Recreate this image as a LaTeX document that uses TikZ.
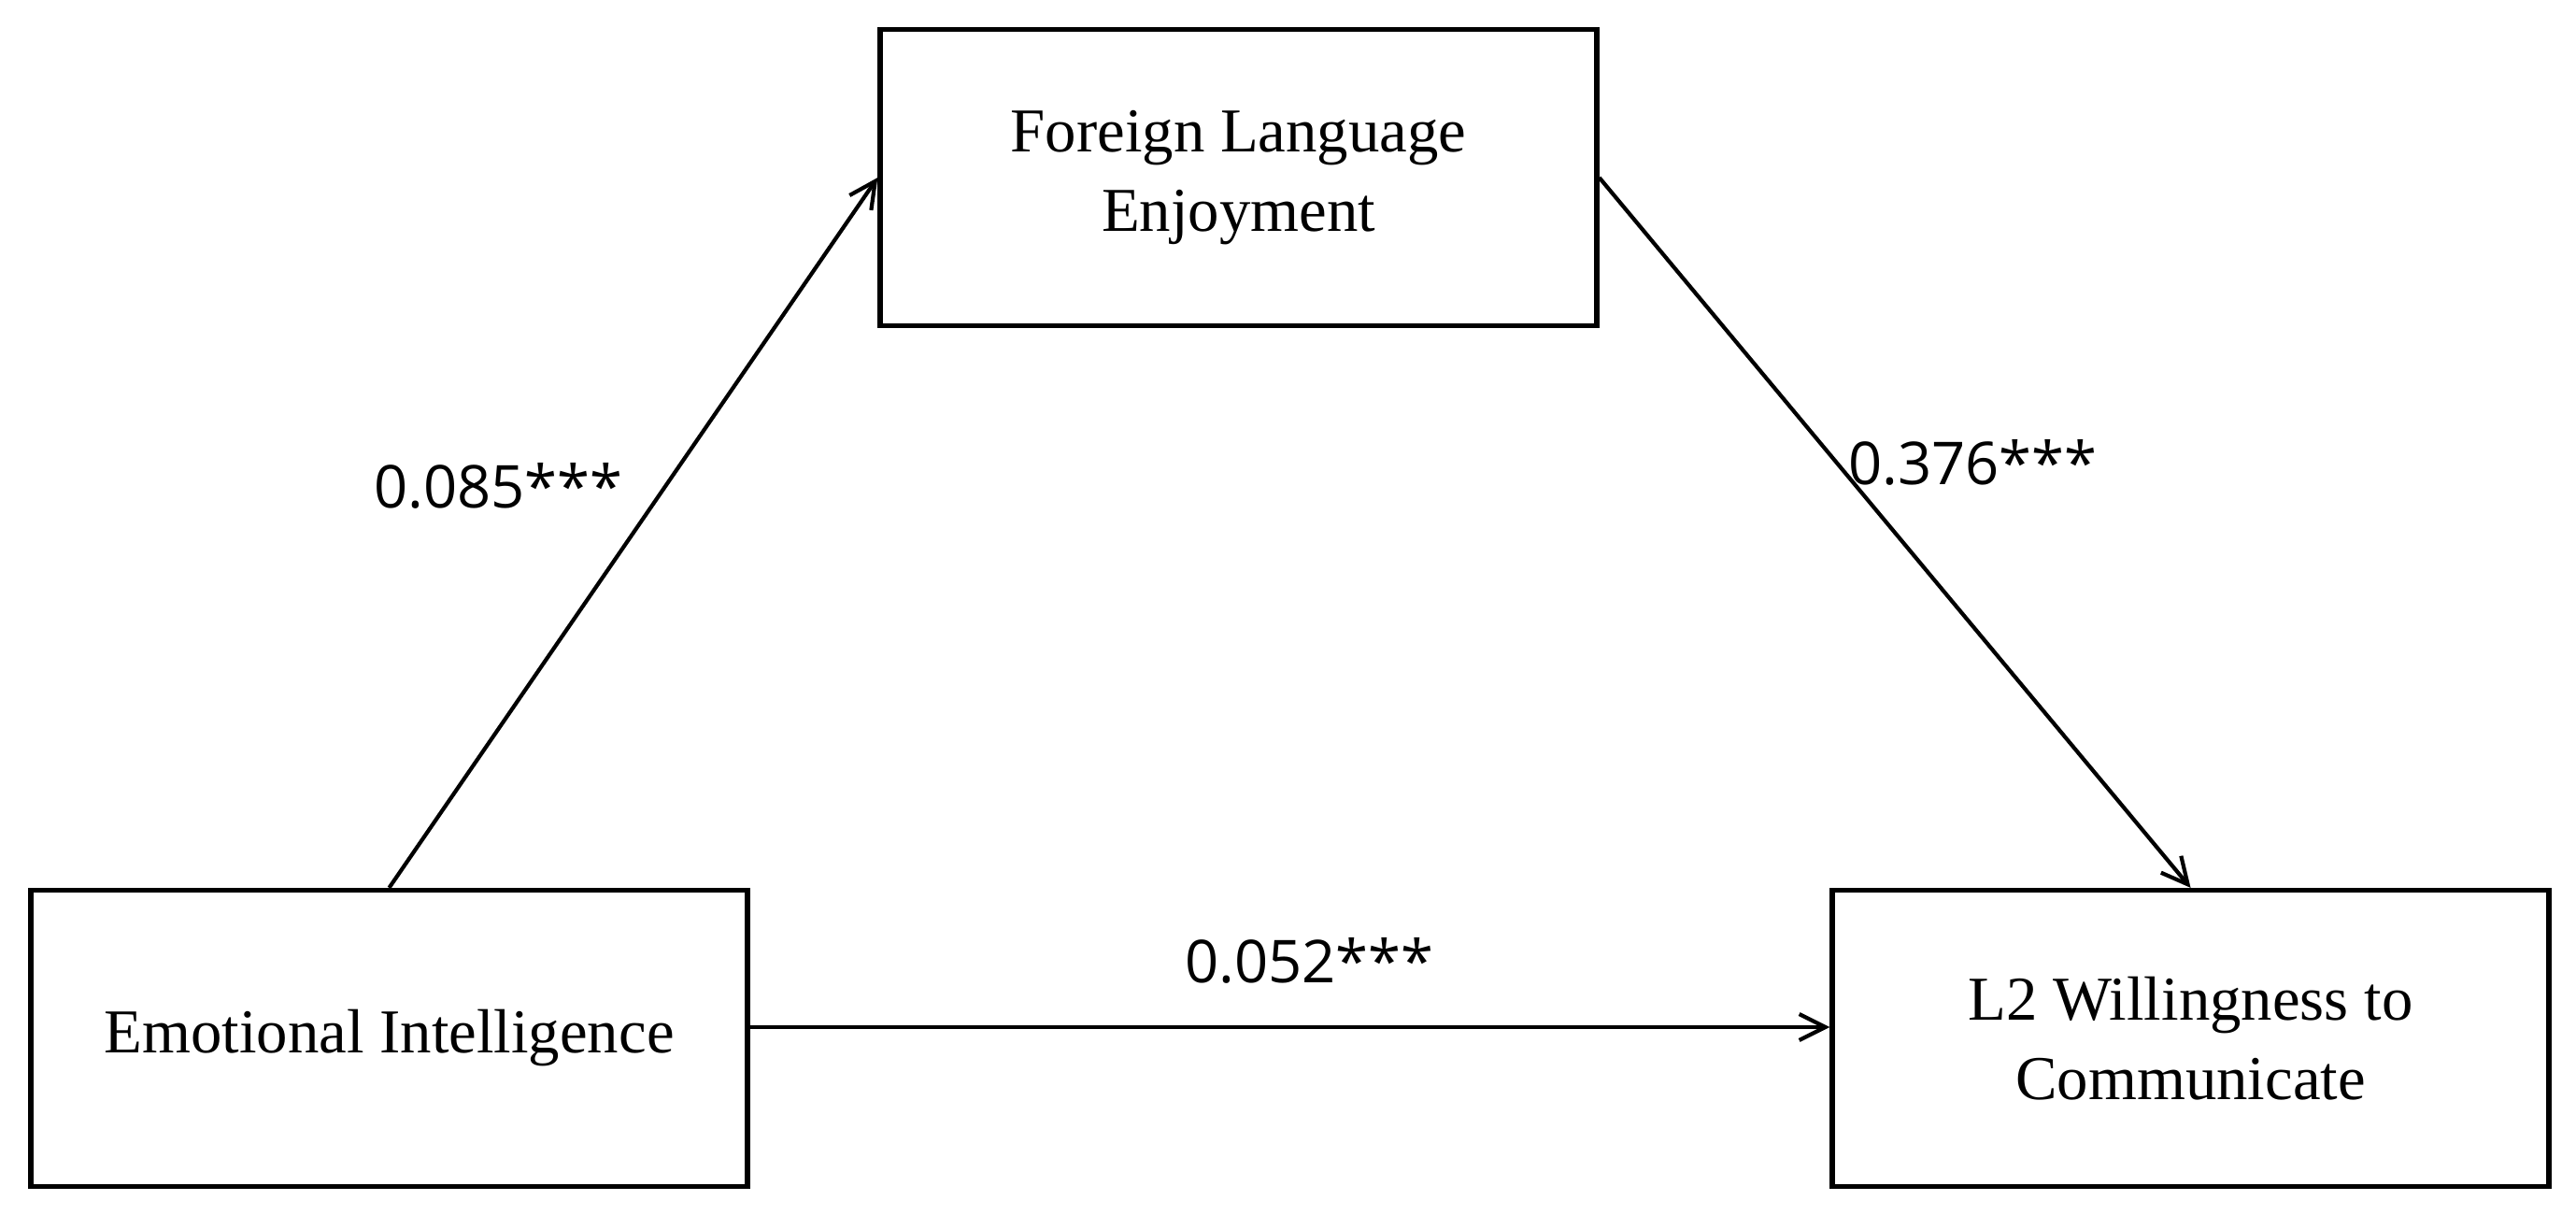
\documentclass[tikz,border=0pt]{standalone}
\usepackage{fontspec}
\setmainfont{Liberation Serif}
\newfontfamily\labelfont{Open Sans}
\usetikzlibrary{arrows.meta}
\begin{document}
\begin{tikzpicture}[
  varbox/.style={draw, line width=1.5pt, minimum width=7.67cm, minimum height=3.17cm,
    align=center, inner sep=0pt, font=\fontsize{19}{24}\selectfont},
  path/.style={draw, line width=1.2pt, -{Straight Barb[length=2.8mm,width=2.8mm,line width=1.2pt]}},
  coef/.style={anchor=base, inner sep=0pt, font=\labelfont\fontsize{18}{20}\selectfont}
]
\useasboundingbox (0,0) rectangle (27.57,-12.99);
\fill[white] (0,0) rectangle (27.57,-12.99);
\node[varbox] (fle) at (13.255,-1.90) {Foreign Language\\Enjoyment};
\node[varbox] (ei) at (4.165,-11.11) {Emotional Intelligence};
\node[varbox] (wtc) at (23.445,-11.11) {L2 Willingness to\\Communicate};
\draw[path] (ei.north) -- (fle.west);
\draw[path] (fle.east) -- (wtc.north);
\draw[path] ([yshift=0.12cm]ei.east) -- ([yshift=0.12cm]wtc.west);
\node[coef] (c1) at (5.335,-5.43) {0.085***};
\node[coef] (c2) at (21.115,-5.18) {0.376***};
\node[coef] (c3) at (14.015,-10.51) {0.052***};
\end{tikzpicture}
\end{document}
